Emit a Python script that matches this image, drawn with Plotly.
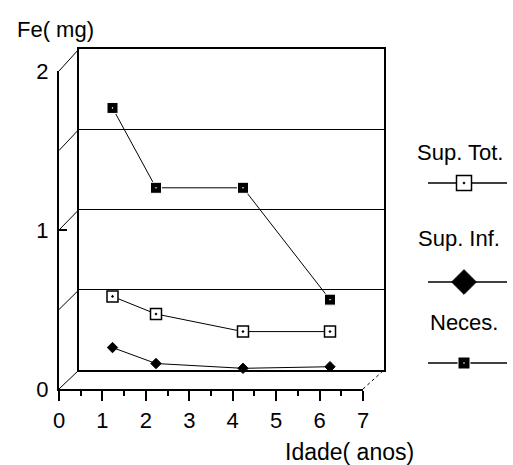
import plotly.graph_objects as go

# ---------------- data ----------------
ages = [1, 2, 4, 6]
sup_tot = [0.52, 0.41, 0.30, 0.30]
sup_inf = [0.20, 0.10, 0.07, 0.08]
neces = [1.70, 1.20, 1.20, 0.50]
series_names = ["Sup. Tot.", "Sup. Inf.", "Neces."]
x_tick_vals = [0, 1, 2, 3, 4, 5, 6, 7]
y_tick_vals = [0, 1, 2]
x_title = "Idade( anos)"
y_title = "Fe( mg)"

# ---------------- layout (pixels of the 513x465 window) ----------------
W, H = 513, 465
FONT = "Liberation Sans, Arial, sans-serif"
FX0, FX1, FY0, FY1 = 59, 363, 389, 71      # front plane (axes)
BX0, BX1, BY0, BY1 = 79, 384, 370, 49      # back wall
MX0, MX1 = (FX0 + BX0) / 2, (FX1 + BX1) / 2  # mid depth (data plane)
MY0, MY1 = (FY0 + BY0) / 2, (FY1 + BY1) / 2
XMAX, YMAX = 7, 2


def px(x):
    return x / W


def py(y):
    return 1 - y / H


def yf(v):
    return FY0 + (FY1 - FY0) * v / YMAX


def yb(v):
    return BY0 + (BY1 - BY0) * v / YMAX


fig = go.Figure()

# data traces on mid-depth axes
fig.add_trace(go.Scatter(x=ages, y=sup_tot, name=series_names[0], mode="lines+markers",
                         xaxis="x2", yaxis="y2", cliponaxis=False,
                         line=dict(color="black", width=1),
                         marker=dict(symbol="square-dot", size=11, color="white",
                                     line=dict(color="black", width=1.5))))
fig.add_trace(go.Scatter(x=ages, y=sup_inf, name=series_names[1], mode="lines+markers",
                         xaxis="x2", yaxis="y2", cliponaxis=False,
                         line=dict(color="black", width=1),
                         marker=dict(symbol="diamond", size=8, color="black",
                                     line=dict(color="black", width=1))))
fig.add_trace(go.Scatter(x=ages, y=neces, name=series_names[2], mode="lines+markers",
                         xaxis="x2", yaxis="y2", cliponaxis=False,
                         line=dict(color="black", width=1),
                         marker=dict(symbol="square-dot", size=11, color="black",
                                     line=dict(color="white", width=1))))

# custom legend (axes in window pixels)
LEG_X0, LEG_XM, LEG_X1 = 428, 464, 507
leg_text_y = [152, 238, 322]
leg_sym_y = [183, 282, 363]
leg_text_x = [460, 459, 464]
leg_markers = [
    dict(symbol="square-dot", size=15, color="white", line=dict(color="black", width=1.5)),
    dict(symbol="diamond", size=19, color="black", line=dict(color="black", width=1)),
    dict(symbol="square-dot", size=12, color="black", line=dict(color="white", width=1)),
]
for i, nm in enumerate(series_names):
    fig.add_trace(go.Scatter(x=[LEG_X0, LEG_X1], y=[leg_sym_y[i]] * 2, mode="lines",
                             xaxis="x4", yaxis="y4", showlegend=False, hoverinfo="skip",
                             line=dict(color="black", width=1.5)))
    fig.add_trace(go.Scatter(x=[LEG_XM], y=[leg_sym_y[i]], mode="markers",
                             xaxis="x4", yaxis="y4", showlegend=False, hoverinfo="skip",
                             marker=leg_markers[i]))

# empty traces so that the front and back axes get drawn
fig.add_trace(go.Scatter(x=[], y=[], xaxis="x", yaxis="y", showlegend=False))
fig.add_trace(go.Scatter(x=[], y=[], xaxis="x3", yaxis="y3", showlegend=False))

shapes = []
# depth lines from front axis to back wall
for v in [0, 0.5, 1, 1.5, 2]:
    shapes.append(dict(type="line", xref="paper", yref="paper",
                       x0=px(FX0), y0=py(yf(v)), x1=px(BX0), y1=py(yb(v)),
                       line=dict(color="black", width=1)))
shapes.append(dict(type="line", xref="paper", yref="paper",
                   x0=px(FX1), y0=py(FY0), x1=px(BX1), y1=py(BY0),
                   line=dict(color="black", width=1, dash="dot")))

annotations = [
    dict(text=y_title, x=px(15), y=py(29), xref="paper", yref="paper",
         xanchor="left", yanchor="middle", showarrow=False,
         font=dict(size=22, family=FONT, color="black")),
    dict(text=x_title, x=px(283), y=py(452), xref="paper", yref="paper",
         xanchor="left", yanchor="middle", showarrow=False,
         font=dict(size=23, family=FONT, color="black")),
]
for i, nm in enumerate(series_names):
    annotations.append(dict(text=nm, x=px(leg_text_x[i]), y=py(leg_text_y[i]),
                            xref="paper", yref="paper", xanchor="center", yanchor="middle",
                            showarrow=False, font=dict(size=22, family=FONT, color="black")))

fig.update_layout(
    width=W, height=H, margin=dict(l=0, r=0, t=0, b=0, pad=0),
    paper_bgcolor="white", plot_bgcolor="rgba(0,0,0,0)",
    showlegend=False, font=dict(family=FONT, color="black", size=22),
    shapes=shapes, annotations=annotations,
    # front axes (ticks)
    xaxis=dict(domain=[px(FX0), px(FX1)], range=[0, XMAX], anchor="y",
               tickvals=x_tick_vals, ticks="outside", ticklen=10, tickwidth=1.5,
               tickcolor="black", showline=True, linecolor="black", linewidth=2,
               showgrid=False, zeroline=False, tickfont=dict(size=22, family=FONT),
               ticklabelstandoff=1, automargin=False,
               minor=dict(dtick=0.5, ticks="outside", ticklen=5, tickcolor="black",
                          tickwidth=1.5, showgrid=False)),
    yaxis=dict(domain=[py(FY0), py(FY1)], range=[0, YMAX], anchor="x",
               tickvals=y_tick_vals, ticks="inside", ticklen=8, tickwidth=1.5,
               tickcolor="black", showline=True, linecolor="black", linewidth=2,
               showgrid=False, zeroline=False, tickfont=dict(size=22, family=FONT),
               ticklabelstandoff=4, automargin=False),
    # mid-depth axes (data)
    xaxis2=dict(domain=[px(MX0), px(MX1)], range=[0, XMAX], anchor="y2", visible=False),
    yaxis2=dict(domain=[py(MY0), py(MY1)], range=[0, YMAX], anchor="x2", visible=False),
    # back wall axes
    xaxis3=dict(domain=[px(BX0), px(BX1)], range=[0, XMAX], anchor="y3",
                showline=True, mirror=True, linecolor="black", linewidth=2,
                showticklabels=False, ticks="", showgrid=False, zeroline=False),
    yaxis3=dict(domain=[py(BY0), py(BY1)], range=[0, YMAX], anchor="x3",
                showline=True, mirror=True, linecolor="black", linewidth=2,
                showticklabels=False, ticks="", dtick=0.5, showgrid=True,
                gridcolor="black", gridwidth=1, zeroline=False),
    # legend axes (window pixel coordinates)
    xaxis4=dict(domain=[0, 1], range=[0, W], anchor="y4", visible=False),
    yaxis4=dict(domain=[0, 1], range=[H, 0], anchor="x4", visible=False),
)

fig.write_html("out.html", config={"displayModeBar": False},
               post_script="document.body.style.margin='0';")
